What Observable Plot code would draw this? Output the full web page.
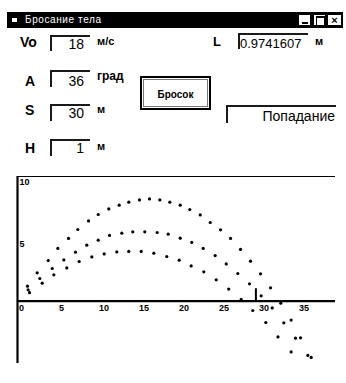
<!DOCTYPE html>
<html>
<head>
<meta charset="utf-8">
<script src="https://cdn.jsdelivr.net/npm/d3@7"></script>
<script src="https://cdn.jsdelivr.net/npm/@observablehq/plot@0.6"></script>
<style>
  html, body { margin: 0; padding: 0; background: #fff; }
  #win { position: relative; width: 346px; height: 383px; overflow: hidden; background: #fff;
         font-family: "Liberation Sans", Arial, sans-serif; color: #000; }
  .abs { position: absolute; line-height: 1; white-space: nowrap; }
  .lbl { font-weight: bold; font-size: 14px; }
  .unit { font-weight: bold; font-size: 11px; }
  .val { font-size: 14px; text-align: right; }
  .edit { position: absolute; border-top: 2px solid #1a1a1a; border-left: 2px solid #1a1a1a;
          box-sizing: border-box; }
  #titlebar { position: absolute; left: 7px; top: 12px; width: 336px; height: 16px; background: #000; }
  .tbtn { position: absolute; top: 2px; width: 13px; height: 12px; background: #fff; box-sizing: border-box;
          border: 1px solid #000; font-weight: bold; font-size: 11px; line-height: 10px; text-align: center; }
  #chart { position: absolute; left: 0; top: 170px; }
</style>
</head>
<body>
<div id="win">
  <div id="titlebar">
    <div class="abs" style="left:5px;top:6px;width:5px;height:4px;background:#fff;"></div>
    <div class="abs" style="left:18px;top:3px;color:#fff;font-size:10px;letter-spacing:0.6px;">Бросание тела</div>
    <div class="tbtn" style="left:291px;"><div style="position:absolute;left:3px;top:7px;width:6px;height:2px;background:#000;"></div></div>
    <div class="tbtn" style="left:306px;"><div style="position:absolute;left:2px;top:1px;width:7px;height:7px;border:1px solid #000;border-top-width:2px;"></div></div>
    <div class="tbtn" style="left:320px;width:15px;">×</div>
  </div>

  <div class="abs lbl" style="left:20px;top:35px;">Vo</div>
  <div class="edit" style="left:50px;top:35px;width:40px;height:16px;"></div>
  <div class="abs val" style="left:50px;top:37px;width:34px;">18</div>
  <div class="abs unit" style="left:97px;top:36px;">м/с</div>

  <div class="abs lbl" style="left:213px;top:35px;font-size:13px;">L</div>
  <div class="edit" style="left:238px;top:33px;width:70px;height:16px;"></div>
  <div class="abs" style="left:240px;top:37px;font-size:13px;">0.9741607</div>
  <div class="abs unit" style="left:315px;top:36px;">м</div>

  <div class="abs lbl" style="left:25px;top:74px;">A</div>
  <div class="edit" style="left:50px;top:70px;width:40px;height:17px;"></div>
  <div class="abs val" style="left:50px;top:74px;width:34px;">36</div>
  <div class="abs unit" style="left:97px;top:70px;font-size:12px;">град</div>

  <div class="abs" style="left:140px;top:76px;width:71px;height:34px;box-sizing:border-box;border:2px solid #000;">
    <div style="position:absolute;left:1px;top:1px;right:1px;bottom:1px;border:1px solid #777;"></div>
    <div class="abs" style="left:0;top:12px;width:67px;text-align:center;font-size:10px;font-weight:bold;">Бросок</div>
  </div>

  <div class="abs lbl" style="left:25px;top:103px;">S</div>
  <div class="edit" style="left:50px;top:104px;width:40px;height:17px;"></div>
  <div class="abs val" style="left:50px;top:106px;width:34px;">30</div>
  <div class="abs unit" style="left:97px;top:104px;">м</div>

  <div class="edit" style="left:226px;top:105px;width:110px;height:18px;"></div>
  <div class="abs" style="left:226px;top:109px;width:109px;text-align:right;font-size:14px;">Попадание</div>

  <div class="abs lbl" style="left:25px;top:141px;">H</div>
  <div class="edit" style="left:50px;top:139px;width:40px;height:17px;"></div>
  <div class="abs val" style="left:50px;top:141px;width:34px;">1</div>
  <div class="abs unit" style="left:97px;top:141px;">м</div>

  <div id="chart"></div>
</div>
<script>
// ---- data ----
const xTicks = [0, 5, 10, 15, 20, 25, 30, 35];
const yTicks = [5, 10];

const topX = [1.25,2.46,3.84,5.04,6.38,7.54,8.88,10.09,11.41,12.71,13.91,15.25,16.50,17.79,19.04,20.34,21.54,22.84,24.09,25.38,26.63,27.88,29.13,30.38,31.63,32.91,34.21,35.38,36.71];
const topY = [1.20,2.27,3.26,4.23,5.03,5.75,6.44,6.95,7.40,7.70,7.94,8.12,8.20,8.12,7.94,7.70,7.35,6.92,6.31,5.72,5.03,4.15,3.21,2.19,1.07,-0.16,-1.52,-2.94,-4.51];

const midX = [1.33,2.79,4.34,5.79,7.25,8.66,10.09,11.50,13.04,14.41,15.91,17.46,18.84,20.34,21.79,23.21,24.71,26.09,27.54,29.00,30.46,31.84,33.29,34.75,36.29];
const midY = [0.91,1.82,2.62,3.31,3.93,4.49,4.89,5.27,5.45,5.56,5.56,5.51,5.37,5.05,4.71,4.23,3.66,2.99,2.22,1.39,0.43,-0.54,-1.74,-2.97,-4.35];

const botX = [1.50,3.09,4.54,6.16,7.71,9.29,10.84,12.41,13.91,15.46,17.04,18.66,20.21,21.71,23.29,24.84,26.40,27.96,29.41,31.04,32.56,34.21];
const botY = [0.68,1.44,2.11,2.67,3.18,3.55,3.79,3.95,3.99,3.99,3.85,3.58,3.29,2.83,2.35,1.71,0.97,0.14,-0.75,-1.71,-2.87,-4.07];

const targetX = [29.8];
const targetH = [1];

const xDomain = [0, 39.75];
const yDomain = [-5, 10];

// ---- build table ----
const points = [
  ...topX.map((x, i) => ({x, y: topY[i], s: "top"})),
  ...midX.map((x, i) => ({x, y: midY[i], s: "mid"})),
  ...botX.map((x, i) => ({x, y: botY[i], s: "bot"}))
];
const target = targetX.map((x, i) => ({x, h: targetH[i]}));

const chart = Plot.plot({
  width: 346,
  height: 200,
  marginTop: 6,
  marginBottom: 7,
  marginLeft: 17,
  marginRight: 11,
  x: {domain: xDomain, axis: null},
  y: {domain: yDomain, axis: null},
  style: {fontFamily: "Liberation Sans, Arial, sans-serif", fontSize: "9px", fontWeight: "bold", background: "transparent", color: "#000"},
  marks: [
    Plot.ruleY([yDomain[1]], {stroke: "#000", strokeWidth: 1.2}),
    Plot.ruleY([0], {stroke: "#000", strokeWidth: 2.2}),
    Plot.ruleX([0], {stroke: "#000", strokeWidth: 2.2}),
    Plot.ruleX(target, {x: "x", y1: 0, y2: "h", stroke: "#000", strokeWidth: 2}),
    Plot.dot(points, {x: "x", y: "y", r: 1.6, fill: "#000", stroke: null}),
    Plot.text(xTicks, {x: d => d, y: 0, text: d => String(d), textAnchor: "start", dx: 1.5, dy: 7, fill: "#000"}),
    Plot.text(yTicks, {x: 0, y: d => d, text: d => String(d), textAnchor: "start", dx: 2, dy: 5.5, fill: "#000"})
  ]
});
document.getElementById("chart").appendChild(chart);
</script>
</body>
</html>
